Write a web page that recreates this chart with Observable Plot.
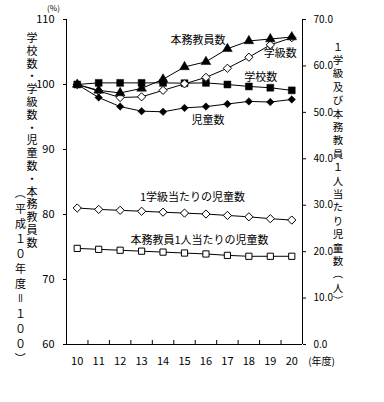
<!DOCTYPE html>
<html><head><meta charset="utf-8">
<script src="https://cdn.jsdelivr.net/npm/d3@7"></script>
<script src="https://cdn.jsdelivr.net/npm/@observablehq/plot@0.6"></script>
<style>
body{margin:0;background:#fff}
svg{font-family:"Noto Sans CJK JP","Noto Sans",sans-serif}
</style>
</head><body><div id="chart"></div>
<script>
// ---- data ----
const years = [10, 11, 12, 13, 14, 15, 16, 17, 18, 19, 20];
const teachers = [100, 99.1, 98.7, 99.4, 100.8, 102.7, 103.5, 105.5, 106.7, 107.0, 107.3]; // 本務教員数
const classes  = [100, 99.0, 98.0, 98.1, 99.1, 100.1, 101.1, 102.5, 104.2, 106.1, 107.2]; // 学級数
const schools  = [100, 100.25, 100.25, 100.25, 100.25, 100.2, 100.25, 100.0, 99.7, 99.5, 99.1]; // 学校数
const pupils   = [100, 98.0, 96.6, 95.9, 95.8, 96.4, 96.6, 97.0, 97.4, 97.3, 97.7]; // 児童数
const pupilsPerClass   = [29.4, 29.1, 28.9, 28.7, 28.5, 28.3, 28.1, 27.8, 27.5, 27.1, 26.8]; // 1学級当たりの児童数
const pupilsPerTeacher = [20.7, 20.5, 20.3, 20.1, 19.9, 19.7, 19.5, 19.2, 19.0, 19.0, 19.0]; // 本務教員1人当たりの児童数
const leftTicks = [60, 70, 80, 90, 100, 110];
const rightTicks = [0, 10, 20, 30, 40, 50, 60, 70];

// right axis (0–70) mapped onto left scale (60–110)
const toLeft = v => 60 + v * 50 / 70;
const fromLeft = t => (t - 60) * 70 / 50;

const rows = (arr, conv = v => v) => years.map((year, i) => ({year, value: conv(arr[i])}));
const sTeachers = rows(teachers), sClasses = rows(classes), sSchools = rows(schools), sPupils = rows(pupils);
const sPerClass = rows(pupilsPerClass, toLeft), sPerTeacher = rows(pupilsPerTeacher, toLeft);

const bounds = years.slice(0, -1).map(y => y + 0.5);

const labels = [
  {text: "本務教員数", s: sTeachers, i: 6, dx: -8, dy: -21},
  {text: "学級数", s: sClasses, i: 9, dx: 10, dy: 9},
  {text: "学校数", s: sSchools, i: 8, dx: 12, dy: -9},
  {text: "児童数", s: sPupils, i: 6, dx: 2, dy: 14},
  {text: "1学級当たりの児童数", s: sPerClass, i: 5, dx: 8, dy: -16},
  {text: "本務教員1人当たりの児童数", s: sPerTeacher, i: 5, dx: 15, dy: -13}
];

const lineOpts = {x: "year", y: "value", stroke: "black", strokeWidth: 1};

const chart = Plot.plot({
  width: 384, height: 402,
  marginLeft: 66, marginRight: 82, marginTop: 19, marginBottom: 58,
  style: {fontSize: "11px", fontFamily: '"Noto Sans CJK JP","Noto Sans",sans-serif', color: "black", background: "white"},
  x: {domain: [9.5, 20.5]},
  y: {domain: [60, 110]},
  marks: [
    Plot.ruleY([60], {stroke: "black"}),
    Plot.ruleX([9.5, 20.5], {stroke: "black"}),
    Plot.axisY({anchor: "left", ticks: leftTicks, tickSize: 3, tickPadding: 9, tickFormat: d => String(d), label: null}),
    Plot.axisY({anchor: "right", ticks: rightTicks.map(toLeft), tickSize: 3, tickPadding: 8, fontSize: 10, tickFormat: t => fromLeft(t).toFixed(1), label: null}),
    Plot.axisX({ticks: years, tickSize: 0, tickPadding: 13, tickFormat: d => String(d), label: null}),
    Plot.axisX({ticks: bounds, tickSize: -4, tickFormat: () => "", label: null}),
    Plot.line(sTeachers, lineOpts),
    Plot.line(sClasses, lineOpts),
    Plot.line(sSchools, lineOpts),
    Plot.line(sPupils, lineOpts),
    Plot.line(sPerClass, lineOpts),
    Plot.line(sPerTeacher, lineOpts),
    Plot.dot(sSchools, {x: "year", y: "value", symbol: "square", r: 3.9, fill: "black", stroke: "black", strokeWidth: 0.5}),
    Plot.dot(sClasses, {x: "year", y: "value", symbol: "diamond2", r: 3.7, fill: "white", stroke: "black", strokeWidth: 1}),
    Plot.dot(sPupils, {x: "year", y: "value", symbol: "diamond2", r: 3.4, fill: "black", stroke: "black", strokeWidth: 0.5}),
    Plot.dot(sTeachers, {x: "year", y: "value", symbol: "triangle", r: 3.6, fill: "black", stroke: "black", strokeWidth: 0.5}),
    Plot.dot(sPerClass, {x: "year", y: "value", symbol: "diamond2", r: 3.7, fill: "white", stroke: "black", strokeWidth: 1}),
    Plot.dot(sPerTeacher, {x: "year", y: "value", symbol: "square", r: 3.5, fill: "white", stroke: "black", strokeWidth: 1}),
    ...labels.map(l => Plot.text([l.s[l.i]], {x: "year", y: "value", text: () => l.text, dx: l.dx, dy: l.dy, fill: "black", fontSize: 11})),
    Plot.text(["(%)"], {frameAnchor: "top-left", textAnchor: "middle", text: d => d, dx: -13, dy: -14, fontSize: 8, fill: "black"}),
    Plot.text(["(年度)"], {frameAnchor: "bottom-right", textAnchor: "middle", text: d => d, dx: 19, dy: 20, fontSize: 10, fill: "black"})
  ]
});

// vertical axis titles, one character per line
const svg = d3.select(chart);
const rotated = new Set(["（", "）", "＝", "ー"]);
function vtext(str, x, y0, step, size) {
  const g = svg.append("g").attr("font-size", size).attr("fill", "black").attr("text-anchor", "middle");
  [...str].forEach((ch, i) => {
    const y = y0 + i * step;
    const t = g.append("text").attr("x", x).attr("y", y).attr("dominant-baseline", "central").text(ch);
    if (rotated.has(ch)) t.attr("transform", `rotate(90,${x},${y})`);
  });
}
vtext("学校数・学級数・児童数・本務教員数", 32, 37, 12.8, 11);
vtext("（平成１０年度＝１００）", 20.5, 193, 15, 11);
vtext("１学級及び本務教員１人当たり児童数（人）", 338, 46, 13.4, 10.5);

document.getElementById("chart").appendChild(chart);
</script>
</body></html>
